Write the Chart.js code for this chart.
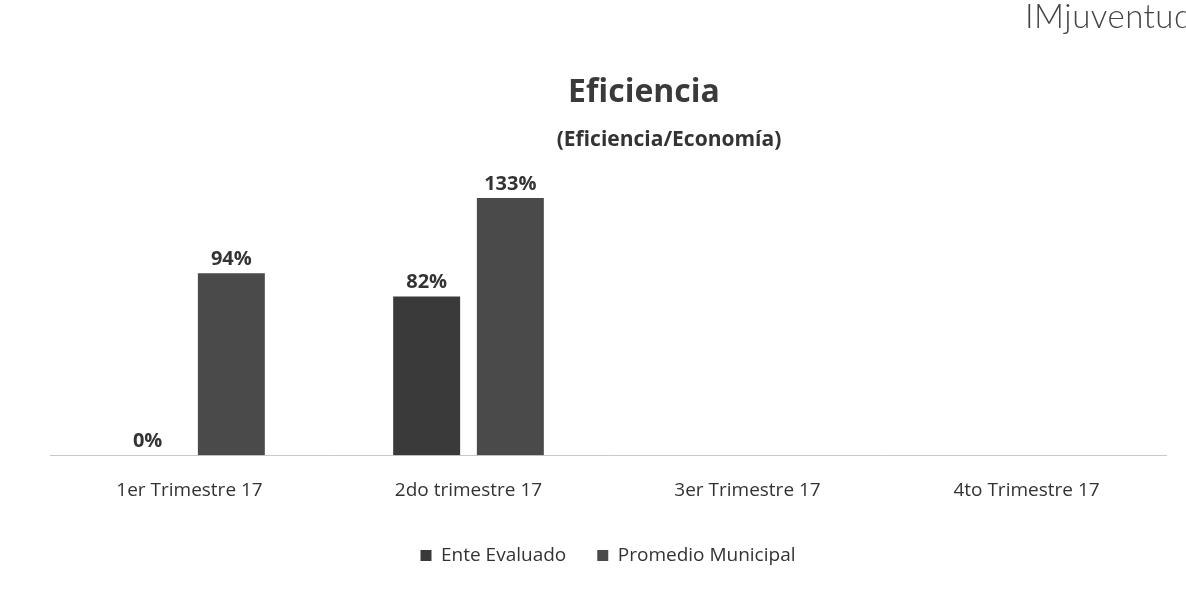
<!DOCTYPE html>
<html>
<head>
<meta charset="utf-8">
<script src="https://cdn.jsdelivr.net/npm/chart.js@4.4.0/dist/chart.umd.min.js"></script>
<style>
    body { margin: 0; background: #ffffff; }
    #wrap { position: relative; width: 1186px; height: 596px; overflow: hidden; }
    #brand {
        position: absolute; left: 1025px; top: -5px;
        font-family: "Lato", "Open Sans", sans-serif; font-weight: 300;
        font-size: 33px; color: #444; letter-spacing: 0.5px; white-space: nowrap;
    }
</style>
</head>
<body>
<div id="wrap">
    <canvas id="chart" width="1186" height="596"></canvas>
    <div id="brand">IMjuventud</div>
</div>
<script>
/*global Chart*/

var categories = ["1er Trimestre 17", "2do trimestre 17", "3er Trimestre 17", "4to Trimestre 17"];
var enteEvaluado = [0, 82, null, null];
var promedioMunicipal = [94, 133, null, null];

var fontFamily = "'Open Sans', 'Noto Sans', sans-serif";

// title, subtitle and the percent labels over each bar
var chartText = {
    id: "chartText",
    afterDatasetsDraw: function (chart) {
        "use strict";
        var ctx = chart.ctx;
        ctx.save();
        ctx.textAlign = "center";
        ctx.textBaseline = "middle";
        ctx.fillStyle = "#3a3a3a";
        ctx.font = "bold 32px " + fontFamily;
        ctx.fillText("Eficiencia", 644, 93);
        ctx.fillStyle = "#333333";
        ctx.font = "bold 21px " + fontFamily;
        ctx.fillText("(Eficiencia/Economía)", 669, 140);

        ctx.font = "bold 20px " + fontFamily;
        chart.data.datasets.forEach(function (ds, i) {
            chart.getDatasetMeta(i).data.forEach(function (bar, j) {
                if (ds.data[j] === null) {
                    return;
                }
                ctx.fillText(ds.data[j] + "%", bar.x, bar.y - 14);
            });
        });
        ctx.restore();
    }
};

var ctx = document.getElementById("chart").getContext("2d");
var myBar = new Chart(ctx, {
    type: "bar",
    data: {
        labels: categories,
        datasets: [
            {
                label: "Ente Evaluado",
                data: enteEvaluado,
                backgroundColor: "#3a3a3a",
                barPercentage: 0.8,
                categoryPercentage: 0.6
            }, {
                label: "Promedio Municipal",
                data: promedioMunicipal,
                backgroundColor: "#4a4a4a",
                barPercentage: 0.8,
                categoryPercentage: 0.6
            }
        ]
    },
    options: {
        responsive: false,
        animation: false,
        layout: { padding: { left: 50, right: 20, top: 165, bottom: 21 } },
        plugins: {
            legend: {
                position: "bottom",
                labels: {
                    color: "#333333",
                    font: { family: fontFamily, size: 19 },
                    boxWidth: 11,
                    boxHeight: 11,
                    padding: 31
                }
            },
            tooltip: { enabled: false }
        },
        scales: {
            x: {
                grid: { display: false },
                border: { display: true, color: "#c8c8c8" },
                ticks: {
                    color: "#333333",
                    padding: 16,
                    font: { family: fontFamily, size: 19 }
                },
                afterFit: function (scale) {
                    scale.height -= 3;
                }
            },
            y: {
                display: false,
                min: 0,
                max: 150
            }
        }
    },
    plugins: [chartText]
});
</script>
</body>
</html>
